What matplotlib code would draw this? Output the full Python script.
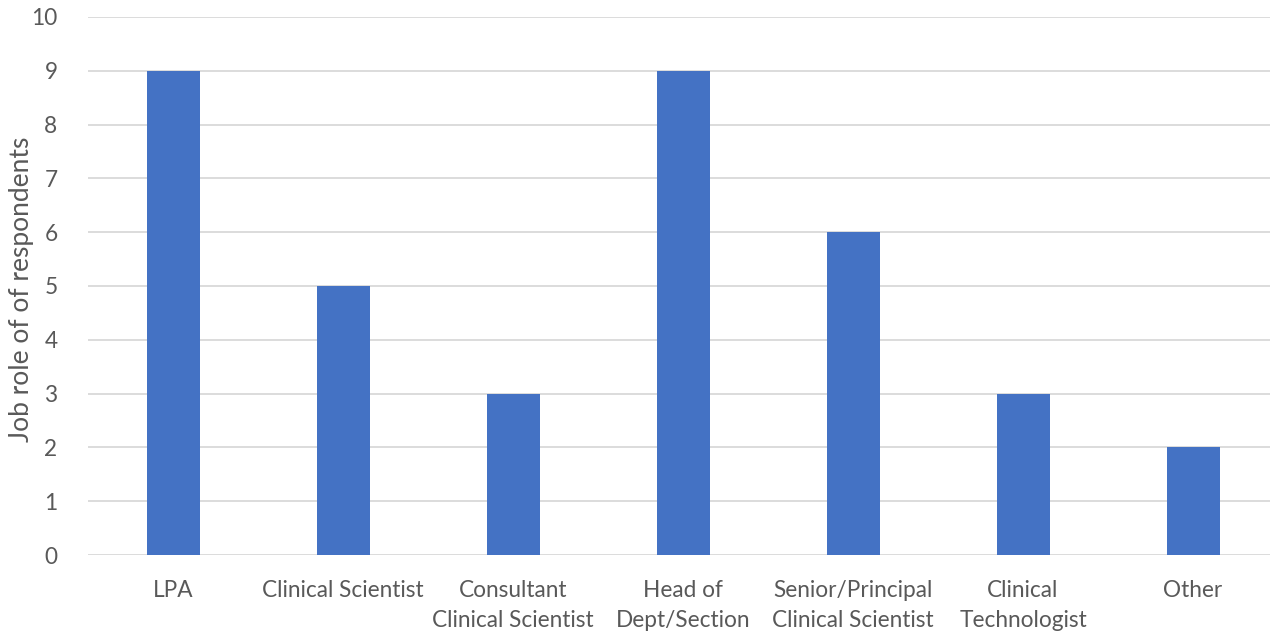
import matplotlib
matplotlib.use("Agg")
import matplotlib.pyplot as plt

categories = ["LPA", "Clinical Scientist", "Consultant\nClinical Scientist", "Head of\nDept/Section",
              "Senior/Principal\nClinical Scientist", "Clinical\nTechnologist", "Other"]
counts = [9, 5, 3, 9, 6, 3, 2]
y_ticks = list(range(0, 11))

W, H = 1270, 633
fig = plt.figure(figsize=(W / 100, H / 100), dpi=100)
plt.rcParams["font.family"] = ["Lato", "DejaVu Sans"]

left, right, bottom, top = 88, 1270, 555, 17
ax = fig.add_axes([left / W, 1 - bottom / H, (right - left) / W, (bottom - top) / H])

step = 170.0
x = list(range(len(categories)))
ax.bar(x, counts, width=53 / step, color="#4472C4", zorder=3)

ax.set_xlim(-0.5, -0.5 + (right - left) / step)
ax.set_ylim(0, 10)
ax.set_yticks(y_ticks)
ax.set_xticks(x)
ax.set_xticklabels(categories)
ax.yaxis.grid(True, color="#D9D9D9", linewidth=1.3, zorder=0)
ax.set_axisbelow(True)
for s in ax.spines.values():
    s.set_visible(False)
ax.tick_params(axis="both", length=0, colors="#595959", labelsize=16.3)
ax.tick_params(axis="x", pad=18)
ax.tick_params(axis="y", pad=22)
for lbl in ax.get_xticklabels():
    lbl.set_linespacing(1.55)
    lbl.set_verticalalignment("top")

fig.text(22 / W, 1 - 289 / H, "Job role of of respondents", rotation=90,
         ha="center", va="center", fontsize=19, color="#595959")

fig.savefig("out.png", dpi=100)
